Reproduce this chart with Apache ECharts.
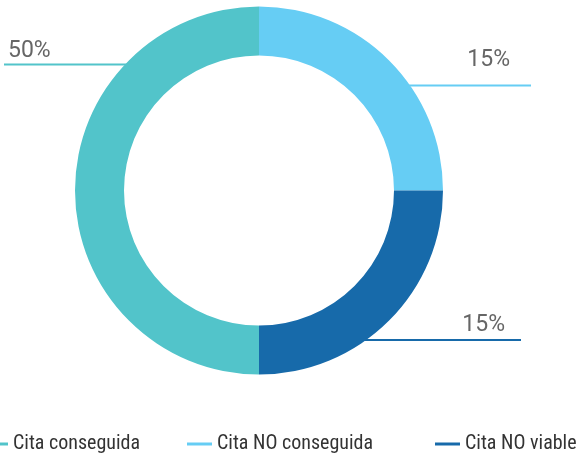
<!DOCTYPE html>
<html>
<head>
<meta charset="utf-8">
<script src="https://cdn.jsdelivr.net/npm/echarts@6/dist/echarts.min.js"></script>
<style>
html,body{margin:0;padding:0;background:#fff;}
#c{width:581px;height:459px;}
</style>
</head>
<body>
<div id="c"></div>
<script>
// Data
var categories = ['Cita conseguida', 'Cita NO conseguida', 'Cita NO viable'];
var shares = [50, 25, 25];            // angular share of each ring segment
var labelTexts = ['50%', '15%', '15%']; // printed labels
var colors = ['#52C4CA', '#66CDF4', '#176AAA'];

// Layout / style constants
var CX = 259, CY = 190.5, R_IN = 135, R_OUT = 184;
var lineY = [64.5, 85.5, 340];
var lineEndX = [4, 531, 521];
var labelPos = [
  {x: 8, y: 63, align: 'left'},
  {x: 510, y: 72, align: 'right'},
  {x: 505, y: 337, align: 'right'}
];
var legendLeft = [-22, 182, 430];

function draw() {
  var chart = echarts.init(document.getElementById('c'));

  var legends = categories.map(function (name, i) {
    return {
      data: [name],
      left: legendLeft[i],
      top: 429,
      icon: 'rect',
      itemWidth: 25,
      itemHeight: 3,
      textStyle: {
        fontFamily: "'Roboto Condensed', Roboto, sans-serif",
        fontSize: 20,
        color: '#333333'
      }
    };
  });

  chart.setOption({
    animation: false,
    color: colors,
    legend: legends,
    series: [{
      type: 'pie',
      center: [CX, CY],
      radius: [R_IN, R_OUT],
      startAngle: 270,
      clockwise: true,
      avoidLabelOverlap: false,
      label: {
        show: true,
        formatter: function (p) { return labelTexts[p.dataIndex]; },
        fontFamily: 'Roboto, sans-serif',
        fontSize: 23,
        color: '#666666'
      },
      labelLine: {
        show: true,
        length: 10,
        length2: 10,
        lineStyle: { width: 2 }
      },
      labelLayout: function (p) {
        var i = p.dataIndex;
        var ly = lineY[i];
        var dy = ly - CY;
        var dx = Math.sqrt(R_OUT * R_OUT - dy * dy);
        var sx = lineEndX[i] < CX ? CX - dx + 2 : CX + dx - 2;
        var ex = lineEndX[i];
        return {
          x: labelPos[i].x,
          y: labelPos[i].y,
          align: labelPos[i].align,
          verticalAlign: 'bottom',
          labelLinePoints: [[sx, ly], [(sx + ex) / 2, ly], [ex, ly]]
        };
      },
      data: categories.map(function (name, i) {
        return { name: name, value: shares[i] };
      })
    }]
  });
}

var done = false;
function go() { if (!done) { done = true; draw(); } }
if (document.fonts && document.fonts.load) {
  Promise.all([
    document.fonts.load("20px 'Roboto Condensed'"),
    document.fonts.load("23px Roboto")
  ]).then(go, go);
  setTimeout(go, 1500);
} else {
  go();
}
</script>
</body>
</html>
